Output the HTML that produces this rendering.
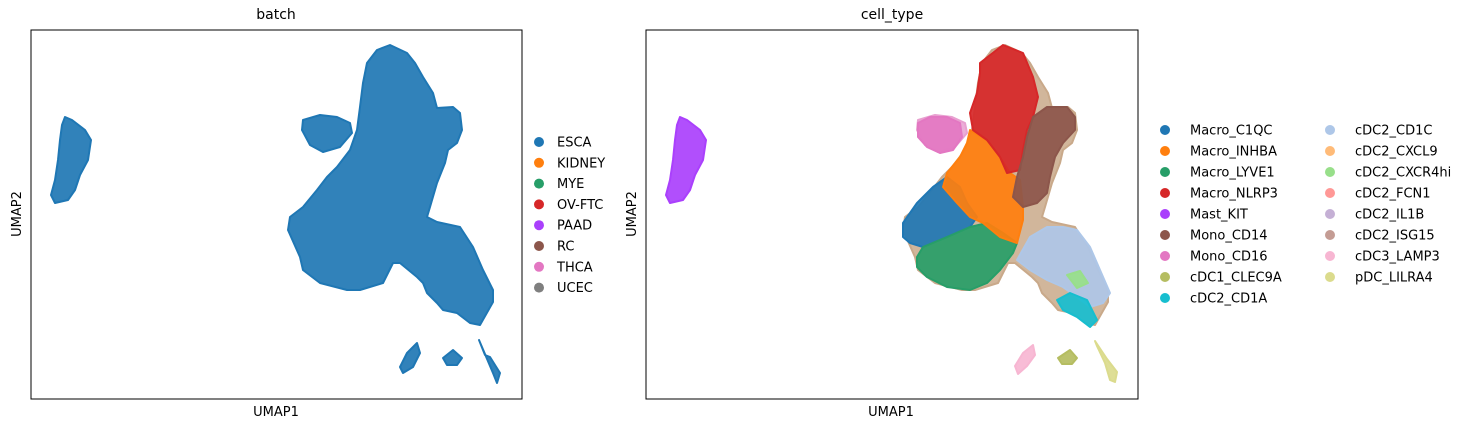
<!DOCTYPE html>
<html><head><meta charset="utf-8">
<style>
body{margin:0;background:#fff;}
svg{display:block;font-family:"DejaVu Sans","Liberation Sans",sans-serif;}
</style></head>
<body>
<svg id="fig" width="1473" height="429" viewBox="0 0 1473 429">
  <text x="276" y="19" font-size="14" text-anchor="middle">batch</text>
  <text x="892" y="19" font-size="14" text-anchor="middle">cell_type</text>
  <g id="p1"></g>
  <g id="p2"></g>
  <rect x="31" y="30" width="491" height="369" fill="none" stroke="#000" stroke-width="1"/>
  <rect x="646" y="30" width="492" height="369" fill="none" stroke="#000" stroke-width="1"/>
  <text x="276" y="416" font-size="13" text-anchor="middle">UMAP1</text>
  <text x="891" y="416" font-size="13" text-anchor="middle">UMAP1</text>
  <text transform="translate(21,214) rotate(-90)" font-size="13" text-anchor="middle">UMAP2</text>
  <text transform="translate(636,214) rotate(-90)" font-size="13" text-anchor="middle">UMAP2</text>
  <g id="leg1"></g>
  <g id="leg2"></g>
</svg>
<script>
const batchCategories=["ESCA","KIDNEY","MYE","OV-FTC","PAAD","RC","THCA","UCEC"];
const batchColors=["#1f77b4","#ff7f0e","#279e68","#d62728","#aa40fc","#8c564b","#e377c2","#7f7f7f"];
const cellTypes=["Macro_C1QC","Macro_INHBA","Macro_LYVE1","Macro_NLRP3","Mast_KIT","Mono_CD14","Mono_CD16","cDC1_CLEC9A","cDC2_CD1A","cDC2_CD1C","cDC2_CXCL9","cDC2_CXCR4hi","cDC2_FCN1","cDC2_IL1B","cDC2_ISG15","cDC3_LAMP3","pDC_LILRA4"];
const cellColors=["#1f77b4","#ff7f0e","#279e68","#d62728","#aa40fc","#8c564b","#e377c2","#b5bd61","#17becf","#aec7e8","#ffbb78","#98df8a","#ff9896","#c5b0d5","#c49c94","#f7b6d2","#dbdb8d"];
// UMAP-space outlines of cell clouds
const mastCloud=[[3.4,28.2],[4.1,27.9],[5.4,26.9],[6.0,25.9],[5.7,23.9],[4.9,22.4],[4.4,20.9],[3.7,19.9],[2.4,19.6],[2.0,20.4],[2.4,21.9],[2.7,23.9],[2.9,25.9],[3.1,27.4]];
const mainCloud=[[35.9,35.4],[37.6,34.6],[38.4,33.6],[39.2,32.2],[39.7,31.4],[40.2,30.6],[40.6,29.1],[42.2,29.2],[42.9,28.6],[43.1,26.9],[42.6,25.6],[41.7,24.9],[41.4,23.6],[40.6,21.6],[39.9,19.2],[39.6,18.2],[40.6,17.7],[42.9,17.2],[44.2,15.2],[45.2,12.9],[46.2,10.9],[46.2,9.7],[44.9,7.4],[43.9,7.6],[42.6,8.6],[41.2,8.9],[40.6,9.6],[39.6,10.6],[39.2,11.6],[38.6,12.2],[36.9,13.6],[36.2,13.6],[35.2,11.6],[32.9,10.9],[31.6,10.9],[28.9,11.6],[27.2,12.9],[26.9,14.2],[25.7,16.9],[25.9,18.2],[27.2,19.2],[28.6,20.9],[29.6,22.2],[30.6,23.2],[31.9,24.9],[32.6,26.9],[32.9,29.2],[33.2,31.6],[33.6,33.6],[34.6,34.9]];
const lobeCloud=[[27.2,27.9],[28.9,28.4],[30.6,28.2],[31.9,27.6],[32.1,26.6],[30.9,25.2],[29.2,24.7],[27.9,25.4],[27.1,26.9]];
const islandA=[[36.9,3.2],[37.6,4.6],[38.6,5.6],[38.9,4.6],[38.2,3.2],[37.2,2.6]];
const islandB=[[41.2,4.1],[42.2,4.9],[43.1,4.1],[42.6,3.4],[41.6,3.4]];
const islandC=[[44.8,5.9],[45.4,4.4],[45.9,4.2],[46.9,2.6],[46.6,1.6],[46.2,2.6]];
const batchClouds=[mastCloud,mainCloud,lobeCloud,islandA,islandB,islandC];
// cell-type regions
const ctC1QC=[[25.7,17.6],[27.1,19.6],[28.7,21.2],[30.1,22.2],[31.4,21.2],[32.1,19.6],[33.1,18.2],[32.4,17.2],[30.1,16.2],[27.7,15.2],[26.4,15.6],[25.7,16.2]];
const ctINHBA=[[32.4,26.9],[34.1,25.9],[35.4,24.2],[36.4,22.6],[37.4,21.9],[37.7,19.2],[37.7,17.9],[37.1,15.6],[35.4,16.2],[33.7,17.6],[32.4,18.2],[31.1,19.6],[29.7,21.2],[30.1,22.6],[31.4,24.2],[32.1,25.6]];
const ctLYVE1=[[27.1,14.2],[27.7,15.2],[30.1,16.2],[32.4,17.2],[34.1,17.6],[35.7,16.6],[37.1,15.6],[36.7,14.6],[35.4,12.9],[34.1,11.6],[32.4,10.9],[30.1,11.2],[28.1,12.2],[27.1,13.2]];
const ctNLRP3=[[33.4,33.6],[35.7,35.4],[37.7,34.6],[38.7,32.2],[39.2,30.2],[38.7,28.2],[38.1,26.9],[37.7,24.9],[37.4,22.9],[36.1,22.6],[35.4,24.2],[34.1,25.9],[32.7,26.9],[32.4,28.6],[33.1,30.6],[33.4,32.6]];
const ctCD14=[[38.7,28.2],[40.1,29.2],[42.1,29.2],[42.9,28.2],[42.9,26.9],[41.7,25.6],[40.9,24.2],[40.4,22.2],[40.1,20.6],[39.1,19.6],[37.7,19.2],[36.7,20.2],[37.1,22.2],[37.7,24.2],[38.1,26.2]];
const ctCD16=[[27.2,27.6],[28.4,28.2],[30.1,28.2],[31.4,27.6],[31.6,26.2],[30.7,24.9],[29.4,24.6],[28.1,25.2],[27.2,26.2]];
const ctCD1C=[[37.1,13.9],[38.4,16.2],[40.1,17.2],[41.7,17.2],[43.1,16.9],[44.4,15.2],[45.4,12.9],[46.4,10.6],[45.7,9.6],[44.4,9.2],[43.1,10.2],[41.7,11.2],[40.1,11.9],[38.4,12.9]];
const ctCD1A=[[41.1,9.9],[42.4,10.6],[44.1,9.9],[45.1,7.9],[44.4,7.2],[43.1,8.2],[41.7,8.9]];
const ctCXCR4=[[42.1,12.4],[43.4,12.8],[44.2,11.6],[43.1,11.1]];
const ctLAMP3=[[36.9,3.3],[37.7,4.6],[38.7,5.4],[38.9,4.4],[38.1,3.3],[37.2,2.5]];
const ctCLEC9A=[[41.2,4.1],[42.4,4.9],[43.1,4.1],[42.6,3.5],[41.6,3.5]];
const ctLILRA4=[[44.9,5.8],[46.1,4.0],[47.1,2.7],[46.9,1.7],[46.4,1.9],[45.9,3.6],[45.1,5.3]];
const ctRegions=[[4,mastCloud],[0,ctC1QC],[2,ctLYVE1],[1,ctINHBA],[3,ctNLRP3],[5,ctCD14],[6,ctCD16],[9,ctCD1C],[11,ctCXCR4],[8,ctCD1A],[15,ctLAMP3],[7,ctCLEC9A],[16,ctLILRA4]];
const ctNames=["mast-kit","macro-c1qc","macro-lyve1","macro-inhba","macro-nlrp3","mono-cd14","mono-cd16","cdc2-cd1c","cdc2-cxcr4hi","cdc2-cd1a","cdc3-lamp3","cdc1-clec9a","pdc-lilra4"];

const NS="http://www.w3.org/2000/svg";
const xDom=[0,49.1], yDom=[0,36.9];
function makeX(left,w){return u=>left+(u-xDom[0])/(xDom[1]-xDom[0])*w;}
function makeY(top,h){return v=>top+h-(v-yDom[0])/(yDom[1]-yDom[0])*h;}
function poly(g,pts,sx,sy,color,name,op){
  const p=document.createElementNS(NS,"polygon");
  p.setAttribute("points",pts.map(q=>sx(q[0]).toFixed(1)+","+sy(q[1]).toFixed(1)).join(" "));
  p.setAttribute("fill",color);p.setAttribute("stroke",color);
  p.setAttribute("stroke-width","2");p.setAttribute("stroke-linejoin","round");
  p.setAttribute("fill-opacity",op||"0.92");
  
  
  g.appendChild(p);
}
const x1=makeX(31,491), y1=makeY(30,369);
const g1=document.getElementById("p1");
batchClouds.forEach((c,i)=>poly(g1,c,x1,y1,batchColors[0],"esca-cloud-"+i));
const x2=makeX(646,491), y2=makeY(30,369);
const g2=document.getElementById("p2");
poly(g2,mainCloud,x2,y2,"#c9a98a","mixed-background-cloud","0.85");
poly(g2,lobeCloud,x2,y2,"#e8a0d0","mixed-lobe-cloud","0.85");
ctRegions.forEach((r,i)=>poly(g2,r[1],x2,y2,cellColors[r[0]],ctNames[i]+"-cloud"));

function legend(g,names,colors,dotX,textX,y0,step){
  names.forEach((n,i)=>{
    const y=y0+i*step;
    const c=document.createElementNS(NS,"circle");
    c.setAttribute("cx",dotX);c.setAttribute("cy",y);c.setAttribute("r",5);c.setAttribute("fill",colors[i]);
    
    
    g.appendChild(c);
    const t=document.createElementNS(NS,"text");
    t.setAttribute("x",textX);t.setAttribute("y",y+4.5);t.setAttribute("font-size","13");
    t.textContent=n;
    
    
    g.appendChild(t);
  });
}
const leg1=document.getElementById("leg1");
legend(leg1,batchCategories,batchColors,539,557,142,20.8);
const leg2=document.getElementById("leg2");
legend(leg2,cellTypes.slice(0,9),cellColors.slice(0,9),1165,1190,130,21);
legend(leg2,cellTypes.slice(9),cellColors.slice(9),1330,1355,130,21);
</script>
</body></html>
